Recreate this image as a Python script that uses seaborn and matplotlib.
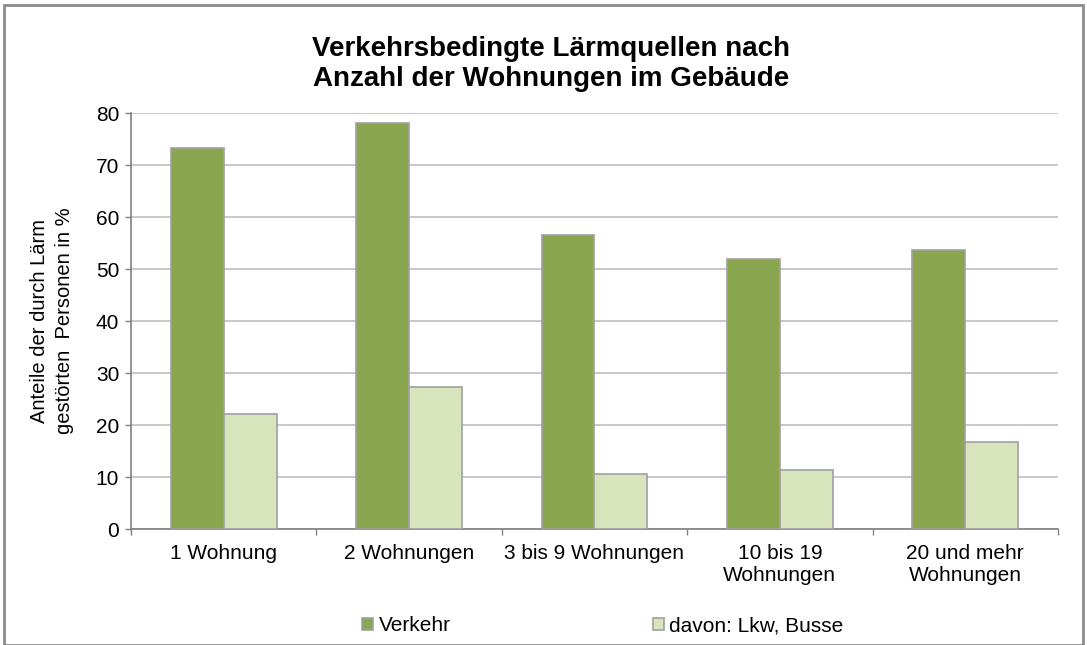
import matplotlib.pyplot as plt
import numpy as np
import pandas as pd
import seaborn as sns
from matplotlib.patches import Rectangle

categories = ["1 Wohnung", "2 Wohnungen", "3 bis 9 Wohnungen", "10 bis 19\nWohnungen", "20 und mehr\nWohnungen"]
series_names = ["Verkehr", "davon: Lkw, Busse"]
verkehr = [73.3, 78.0, 56.5, 52.0, 53.6]
lkw_busse = [22.1, 27.3, 10.6, 11.4, 16.8]
y_ticks = [0, 10, 20, 30, 40, 50, 60, 70, 80]

colors = ["#8AA64E", "#D8E4BC"]

df = pd.DataFrame({
    "Kategorie": categories * 2,
    "Serie": [series_names[0]] * len(categories) + [series_names[1]] * len(categories),
    "Wert": verkehr + lkw_busse,
})

sns.set_theme(style="white")
plt.rcParams["font.family"] = ["Liberation Sans", "DejaVu Sans"]
plt.rcParams["text.color"] = "black"
plt.rcParams["axes.labelcolor"] = "black"
plt.rcParams["xtick.color"] = "black"
plt.rcParams["ytick.color"] = "black"

fig = plt.figure(figsize=(10.87, 6.45), dpi=100)
ax = fig.add_axes([0.1205, 0.1798, 0.8528, 0.645])

sns.barplot(data=df, x="Kategorie", y="Wert", hue="Serie", order=categories,
            hue_order=series_names, palette=colors, width=0.57, gap=0,
            edgecolor="#A0A0A0", linewidth=1.2, saturation=1, ax=ax, zorder=3)

ax.set_ylim(0, 80)
ax.set_xlim(-0.5, len(categories) - 0.5)
ax.set_yticks(y_ticks)
ax.tick_params(axis="y", left=True, labelsize=15, length=4.5, width=1, color="#808080",
               direction="out", pad=4)
ax.tick_params(axis="x", which="major", labelsize=15, length=0, pad=11)
ax.set_xticks(np.arange(-0.5, len(categories), 1.0), minor=True)
ax.tick_params(axis="x", which="minor", bottom=True, length=4.5, color="#808080", width=1,
               direction="out")
ax.yaxis.grid(True, color="#BFBFBF", linewidth=1.2, zorder=0)
ax.set_axisbelow(True)

for s in ["top", "right"]:
    ax.spines[s].set_visible(False)
for s in ["left", "bottom"]:
    ax.spines[s].set_color("#808080")
    ax.spines[s].set_linewidth(1.2)

ax.set_xlabel("")
ax.set_ylabel("Anteile der durch Lärm\ngestörten  Personen in %", fontsize=14.5, labelpad=16,
              linespacing=1.35)

fig.suptitle("Verkehrsbedingte Lärmquellen nach\nAnzahl der Wohnungen im Gebäude",
             fontsize=20, fontweight="bold", x=0.507, y=0.944, linespacing=1.2)

ax.legend(loc="center", bbox_to_anchor=(0.509, -0.233), ncol=2, frameon=False,
          fontsize=15, handlelength=0.55, handleheight=0.55, handletextpad=0.25,
          columnspacing=9.7)

fig.patches.append(Rectangle((0.004, 0.0), 0.992, 0.993, transform=fig.transFigure,
                             fill=False, edgecolor="#8C8C8C", linewidth=2))

fig.savefig("out.png", dpi=100)
